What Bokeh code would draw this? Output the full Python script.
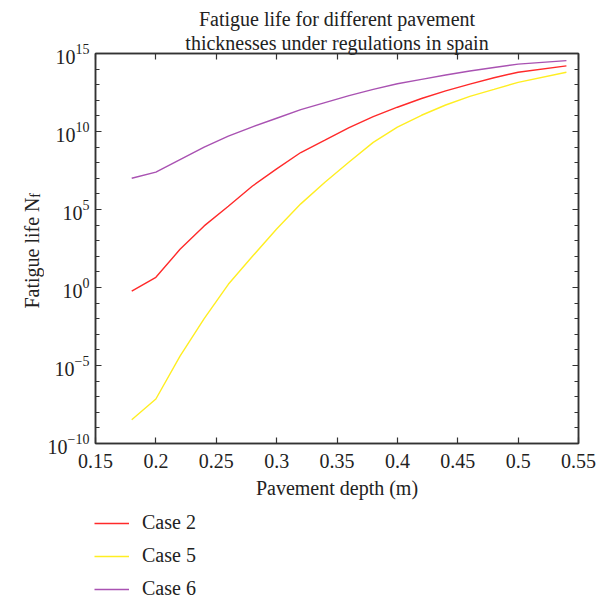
from bokeh.plotting import figure
from bokeh.layouts import row, column
from bokeh.models import (FixedTicker, CustomJSTickFormatter, LogTickFormatter, LogAxis,
                          LinearAxis, Range1d, Legend, LegendItem, Title)
from bokeh.core.properties import value
from bokeh.embed import file_html
from bokeh.resources import INLINE
from math import pi

# ---------------- data ----------------
depth = [0.18, 0.20, 0.22, 0.24, 0.26, 0.28, 0.30, 0.32, 0.34, 0.36,
         0.38, 0.40, 0.42, 0.44, 0.46, 0.48, 0.50, 0.54]
case2 = [5.8e-1, 4.5e0, 2.8e2, 8.9e3, 1.6e5, 3.2e6, 4.0e7, 4.5e8, 2.8e9, 1.8e10,
         8.9e10, 3.6e11, 1.3e12, 4.0e12, 1.1e13, 2.8e13, 6.3e13, 1.6e14]
case5 = [3.3e-9, 7.1e-8, 4.0e-5, 1.0e-2, 1.6e0, 1.0e2, 5.6e3, 2.3e5, 5.6e6, 1.1e8,
         2.0e9, 1.9e10, 1.1e11, 5.0e11, 1.8e12, 5.0e12, 1.4e13, 6.3e13]
case6 = [1.0e7, 2.5e7, 1.6e8, 1.0e9, 5.0e9, 2.0e10, 7.1e10, 2.5e11, 7.1e11, 2.0e12,
         5.0e12, 1.15e13, 2.2e13, 4.2e13, 7.6e13, 1.26e14, 2.1e14, 3.5e14]

series_names = ["Case 2", "Case 5", "Case 6"]
series_colors = ["#ff2a2a", "#ffee22", "#a952b2"]

x_ticks = [0.15, 0.2, 0.25, 0.3, 0.35, 0.4, 0.45, 0.5, 0.55]
y_major = [1e-10, 1e-5, 1e0, 1e5, 1e10, 1e15]
y_minor = [10.0 ** k for k in range(-10, 16)]

title_lines = ["Fatigue life for different pavement",
               "thicknesses under regulations in spain"]
ylabel_main = "Fatigue life N"
ylabel_sub = "f"
xlabel = "Pavement depth (m)"

FONT = "Liberation Serif"
AX = "#333333"
TXT = "#222222"
HMAIN = 505
HLEG = 94
WLAB = 44

# ---------------- main figure ----------------
p = figure(width=597 - WLAB, height=HMAIN,
           min_border_left=94 - WLAB, min_border_right=19,
           min_border_top=53, min_border_bottom=62,
           y_axis_type="log", title_location=None,
           x_range=Range1d(0.15, 0.55), y_range=Range1d(1e-10, 1e15),
           output_backend="svg", toolbar_location=None)
p.background_fill_color = "white"
p.border_fill_color = "white"
p.outline_line_color = AX
p.outline_line_width = 1.5
p.grid.visible = False

for ys, col in zip([case2, case5, case6], series_colors):
    p.line(depth, ys, line_color=col, line_width=1.4)

xfmt = "return String(Math.round(tick*100)/100);"

def style(ax):
    ax.axis_line_color = AX
    ax.axis_line_width = 1.5
    ax.major_tick_line_color = AX
    ax.minor_tick_line_color = AX
    ax.major_tick_line_width = 1.2
    ax.minor_tick_line_width = 1.2
    ax.major_tick_in = 6
    ax.major_tick_out = 0
    ax.minor_tick_in = 4
    ax.minor_tick_out = 0
    ax.major_label_text_font = FONT
    ax.major_label_text_color = TXT

yax = p.yaxis[0]
yax.ticker = FixedTicker(ticks=y_major, minor_ticks=y_minor)
yax.formatter = LogTickFormatter()
style(yax)
yax.major_label_text_font_size = "20px"
yax.major_label_standoff = 6

xax = p.xaxis[0]
xax.ticker = FixedTicker(ticks=x_ticks, minor_ticks=[])
xax.formatter = CustomJSTickFormatter(code=xfmt)
style(xax)
xax.major_label_text_font_size = "20px"
xax.major_label_standoff = 10
xax.axis_label = xlabel
xax.axis_label_text_font = FONT
xax.axis_label_text_font_style = "normal"
xax.axis_label_text_font_size = "20px"
xax.axis_label_text_color = TXT
xax.axis_label_standoff = 6

rax = LogAxis(ticker=FixedTicker(ticks=y_major, minor_ticks=y_minor),
              formatter=CustomJSTickFormatter(code="return '';"))
style(rax)
rax.major_label_standoff = 0
rax.major_label_text_font_size = "1px"
p.add_layout(rax, "right")
tax = LinearAxis(ticker=FixedTicker(ticks=x_ticks, minor_ticks=[]),
                 formatter=CustomJSTickFormatter(code="return '';"))
style(tax)
tax.major_label_standoff = 0
tax.major_label_text_font_size = "1px"
p.add_layout(tax, "above")

for txt in reversed(title_lines):
    p.add_layout(Title(text=txt, align="center", text_font=FONT,
                       text_font_size="20px", text_font_style="normal",
                       text_line_height=1.05,
                       text_color=TXT, standoff=0), "above")

# ---------------- y-axis label strip (shares the log y scale) ----------------
lab = figure(width=WLAB, height=HMAIN, min_border=0, title_location=None,
             x_range=Range1d(0, WLAB), y_range=p.y_range, y_axis_type="log",
             x_axis_location=None, y_axis_location=None,
             output_backend="svg", toolbar_location=None)
lab.outline_line_color = None
lab.grid.visible = False
lab.text(x=[31], y=[10 ** -1.35], text=[ylabel_main], angle=pi / 2,
         text_align="left", text_baseline="alphabetic",
         text_font=value(FONT), text_font_size="20px", text_color=TXT)
lab.text(x=[34.5], y=[10 ** 5.75], text=[ylabel_sub], angle=pi / 2,
         text_align="left", text_baseline="alphabetic",
         text_font=value(FONT), text_font_size="14px", text_color=TXT)

# ---------------- legend strip ----------------
leg = figure(width=597, height=HLEG, min_border=0, title_location=None,
             x_range=Range1d(10, 11), y_range=Range1d(0, 1),
             x_axis_location=None, y_axis_location=None,
             output_backend="svg", toolbar_location=None)
leg.outline_line_color = None
leg.grid.visible = False
leg_renderers = [leg.line(depth, ys, line_color=col, line_width=1.4)
                 for ys, col in zip([case2, case5, case6], series_colors)]
legend = Legend(items=[LegendItem(label=n, renderers=[r])
                       for n, r in zip(series_names, leg_renderers)])
legend.location = (94, -1)
legend.border_line_color = None
legend.background_fill_alpha = 0
legend.padding = 0
legend.margin = 0
legend.glyph_width = 35
legend.glyph_height = 20
legend.label_height = 20
legend.spacing = 10
legend.label_standoff = 13
legend.label_text_font = FONT
legend.label_text_font_size = "20px"
legend.label_text_color = TXT
leg.add_layout(legend)

layout = column(row(lab, p, spacing=0), leg, spacing=0)
open("out.html", "w").write(file_html(layout, INLINE))
